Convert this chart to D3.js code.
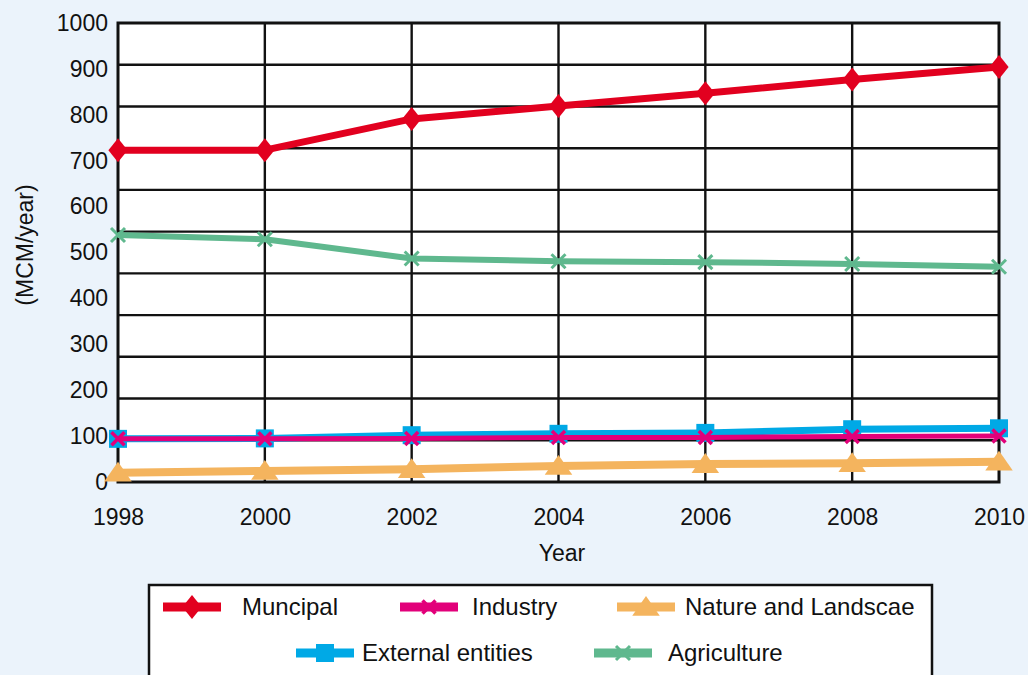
<!DOCTYPE html>
<html>
<head>
<meta charset="utf-8">
<script src="https://cdn.jsdelivr.net/npm/d3@7"></script>
<style>
  html, body { margin: 0; padding: 0; background: #ebf3fb; }
  svg { display: block; }
  text { font-family: "Liberation Sans", Arial, sans-serif; fill: #111; }
</style>
</head>
<body>
<svg id="chart" width="1028" height="675"></svg>
<script>
// Water allocation by sector, million cubic metres per year
const years = [1998, 2000, 2002, 2004, 2006, 2008, 2010];
const yTicks = [0, 100, 200, 300, 400, 500, 600, 700, 800, 900, 1000];
const municipal = [723, 723, 791, 819, 847, 877, 904];
const industry  = [94, 94, 95, 97, 97, 99, 100];
const nature    = [20, 24, 28, 35, 39, 41, 44];
const external  = [94, 95, 102, 105, 107, 115, 117];
const agriculture = [538, 529, 487, 481, 479, 475, 469];

const seriesNames = ["Muncipal", "Industry", "Nature and Landscae", "External entities", "Agriculture"];

const svg = d3.select("#chart");
const plot = { left: 118, right: 999, top: 23, bottom: 482 };

const x = d3.scaleLinear().domain([1998, 2010]).range([plot.left, plot.right]);
const y = d3.scaleLinear().domain([0, 1000]).range([plot.bottom, plot.top]);
// horizontal rules split the panel into 11 equal bands
const band = d3.scaleLinear().domain([0, 11]).range([plot.bottom, plot.top]);

// panel
svg.append("rect")
  .attr("x", plot.left).attr("y", plot.top)
  .attr("width", plot.right - plot.left).attr("height", plot.bottom - plot.top)
  .attr("fill", "#fff");

// horizontal rules
svg.append("g").selectAll("line").data(d3.range(1, 11)).join("line")
  .attr("x1", plot.left).attr("x2", plot.right)
  .attr("y1", d => band(d)).attr("y2", d => band(d))
  .attr("stroke", "#111").attr("stroke-width", 2.4);

// vertical rules at each labelled year
svg.append("g").selectAll("line").data(years.slice(1, -1)).join("line")
  .attr("x1", d => x(d)).attr("x2", d => x(d))
  .attr("y1", plot.top).attr("y2", plot.bottom)
  .attr("stroke", "#111").attr("stroke-width", 2.4);

// frame
svg.append("rect")
  .attr("x", plot.left).attr("y", plot.top)
  .attr("width", plot.right - plot.left).attr("height", plot.bottom - plot.top)
  .attr("fill", "none").attr("stroke", "#111").attr("stroke-width", 3);

// axes (labels only, the frame carries the lines)
const yAxis = d3.axisLeft(y).tickValues(yTicks).tickFormat(d3.format("d")).tickSize(0).tickPadding(10);
const gy = svg.append("g").attr("transform", `translate(${plot.left},0)`).call(yAxis);
gy.select(".domain").remove();
gy.selectAll("text").attr("font-size", 23).attr("font-family", "Liberation Sans, Arial, sans-serif").attr("fill", "#111");

const xAxis = d3.axisBottom(x).tickValues(years).tickFormat(d3.format("d")).tickSize(0).tickPadding(27);
const gx = svg.append("g").attr("transform", `translate(0,${plot.bottom})`).call(xAxis);
gx.select(".domain").remove();
gx.selectAll("text").attr("font-size", 23).attr("font-family", "Liberation Sans, Arial, sans-serif").attr("fill", "#111");

svg.append("text").attr("x", 562).attr("y", 561).attr("text-anchor", "middle")
  .attr("font-size", 23).text("Year");
svg.append("text").attr("transform", "translate(33,245) rotate(-90)").attr("text-anchor", "middle")
  .attr("font-size", 23).text("(MCM/year)");

// marker shapes
const sym = {
  diamond: s => `M0,${-s}L${s * 0.8},0L0,${s}L${-s * 0.8},0Z`,
  triangle: s => `M0,${-s}L${s * 1.25},${s * 0.8}L${-s * 1.25},${s * 0.8}Z`,
  square: s => `M${-s},${-s}H${s}V${s}H${-s}Z`,
  cross: s => `M${-s},${-s}L${s},${s}M${s},${-s}L${-s},${s}`
};

const series = [
  { name: seriesNames[4], values: agriculture, color: "#5fb88e", width: 6, shape: "cross", size: 7, filled: false, mstroke: 3 },
  { name: seriesNames[3], values: external, color: "#00a9e6", width: 7, shape: "square", size: 9, filled: true },
  { name: seriesNames[1], values: industry, color: "#e2007a", width: 5, shape: "cross", size: 6.5, filled: false, mstroke: 3.5 },
  { name: seriesNames[2], values: nature, color: "#f4b45e", width: 8, shape: "triangle", size: 11, filled: true },
  { name: seriesNames[0], values: municipal, color: "#e2001f", width: 7, shape: "diamond", size: 12, filled: true }
];

const line = d3.line().x(d => x(d.year)).y(d => y(d.value));

series.forEach(s => {
  const pts = years.map((yr, i) => ({ year: yr, value: s.values[i] }));
  const g = svg.append("g");
  g.append("path").datum(pts).attr("d", line)
    .attr("fill", "none").attr("stroke", s.color).attr("stroke-width", s.width)
    .attr("stroke-linejoin", "round");
  g.selectAll("path.m").data(pts).join("path").attr("class", "m")
    .attr("transform", d => `translate(${x(d.year)},${y(d.value)})`)
    .attr("d", sym[s.shape](s.size))
    .attr("fill", s.filled ? s.color : "none")
    .attr("stroke", s.filled ? "none" : s.color)
    .attr("stroke-width", s.mstroke || 0);
});

// legend
const legend = svg.append("g");
legend.append("rect").attr("x", 149).attr("y", 585).attr("width", 783).attr("height", 110)
  .attr("fill", "#fff").attr("stroke", "#111").attr("stroke-width", 2.5);

const legendItems = [
  { s: series[4], x: 163, y: 607, tx: 242 },
  { s: series[2], x: 400, y: 607, tx: 472 },
  { s: series[3], x: 617, y: 607, tx: 685 },
  { s: series[1], x: 296, y: 653, tx: 362 },
  { s: series[0], x: 594, y: 653, tx: 668 }
];
legendItems.forEach(it => {
  const s = it.s;
  const g = legend.append("g");
  g.append("line").attr("x1", it.x).attr("x2", it.x + 58).attr("y1", it.y).attr("y2", it.y)
    .attr("stroke", s.color).attr("stroke-width", 9);
  g.append("path").attr("transform", `translate(${it.x + 29},${it.y})`)
    .attr("d", sym[s.shape](s.size))
    .attr("fill", s.filled ? s.color : "none")
    .attr("stroke", s.filled ? "none" : s.color)
    .attr("stroke-width", s.mstroke || 0);
  g.append("text").attr("x", it.tx).attr("y", it.y).attr("dy", "0.35em")
    .attr("font-size", 24).text(s.name);
});
</script>
</body>
</html>
